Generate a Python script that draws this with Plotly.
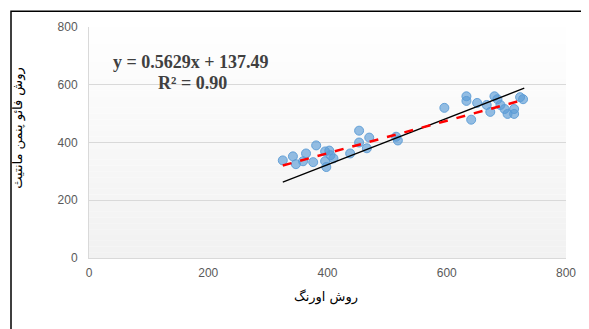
import plotly.graph_objects as go
import numpy as np

# Data
orang_x = [325, 342, 347, 359, 364, 376, 381, 396, 396, 398, 403, 405, 410, 438,
           453, 453, 470, 466, 515, 518, 596, 633, 633, 641, 651, 667, 673, 680,
           685, 690, 697, 702, 713, 713, 723, 728]
fao_y = [338, 352, 325, 335, 362, 332, 390, 369, 335, 315, 372, 356, 345, 362,
         441, 400, 417, 380, 420, 407, 520, 560, 544, 479, 537, 530, 506, 560,
         550, 530, 516, 499, 499, 516, 557, 550]

slope = 0.5629
intercept = 137.49
r2 = 0.90
trend_x = [325, 730]
trend_y = [slope * v + intercept for v in trend_x]

ref_x = [325, 730]
ref_y = [263, 588]

x_ticks = [0, 200, 400, 600, 800]
y_ticks = [0, 200, 400, 600, 800]

x_title = "روش اورنگ"
y_title = "روش فائو پنمن مانتیث"

# page offset of the figure (body margin)
OFF = 8
W, H = 589 - OFF, 329 - OFF
PL, PT, PR, PB = 89, 24, 566, 258   # plot area in page pixels
PW, PH = PR - PL, PB - PT


def px(xp):
    return (xp - PL) / PW


def py(yp):
    return (PB - yp) / PH


fig = go.Figure()

n = 40
shapes = []
for i in range(n):
    t = i / n
    g = int(255 - 13 * (1 - t))
    shapes.append(dict(type="rect", xref="paper", yref="paper", x0=0, x1=1,
                       y0=t, y1=(i + 1) / n, fillcolor=f"rgb({g},{g},{g})",
                       line=dict(width=0), layer="below"))
shapes.append(dict(type="rect", xref="paper", yref="paper",
                   x0=px(11), x1=px(600), y0=py(340), y1=py(8),
                   line=dict(color="black", width=1.5), fillcolor="rgba(0,0,0,0)"))

fig.add_trace(go.Scatter(x=orang_x, y=fao_y, mode="markers",
                         marker=dict(size=9, color="rgba(91,155,213,0.65)",
                                     line=dict(color="rgba(91,155,213,0.9)", width=1)),
                         showlegend=False))
fig.add_trace(go.Scatter(x=ref_x, y=ref_y, mode="lines",
                         line=dict(color="black", width=1.3), showlegend=False))
fig.add_trace(go.Scatter(x=trend_x, y=trend_y, mode="lines",
                         line=dict(color="red", width=2.5, dash="dash"),
                         showlegend=False))

fig.update_layout(
    width=W, height=H,
    margin=dict(l=PL - OFF, r=W - (PR - OFF), t=PT - OFF, b=H - (PB - OFF)),
    paper_bgcolor="white", plot_bgcolor="white",
    shapes=shapes,
    xaxis=dict(range=[0, 800], tickvals=x_ticks, showgrid=False, zeroline=False,
               showline=True, linecolor="#d9d9d9", linewidth=1, ticks="",
               ticklabelstandoff=4,
               tickfont=dict(family="Liberation Sans", size=12, color="#595959")),
    yaxis=dict(range=[0, 800], tickvals=y_ticks, showgrid=True, gridcolor="#d9d9d9",
               zeroline=False, showline=True, linecolor="#d9d9d9", ticks="",
               ticklabelstandoff=8,
               tickfont=dict(family="Liberation Sans", size=12, color="#595959")),
    annotations=[
        dict(xref="paper", yref="paper", x=px(191), y=py(47), xanchor="center",
             text=f"<b>y = {slope}x + {intercept}</b>", showarrow=False,
             font=dict(family="Liberation Serif", size=18, color="#404040")),
        dict(xref="paper", yref="paper", x=px(192), y=py(69), xanchor="center",
             text=f"<b>R² = {r2:.2f}</b>", showarrow=False,
             font=dict(family="Liberation Serif", size=18, color="#404040")),
        dict(xref="paper", yref="paper", x=px(326), y=py(308), xanchor="center",
             text=x_title, showarrow=False,
             font=dict(family="DejaVu Sans", size=13, color="black")),
        dict(xref="paper", yref="paper", x=px(18), y=py(127), xanchor="center",
             text=y_title, showarrow=False, textangle=-90,
             font=dict(family="DejaVu Sans", size=13, color="black")),
    ],
)

fig.write_html("out.html")
